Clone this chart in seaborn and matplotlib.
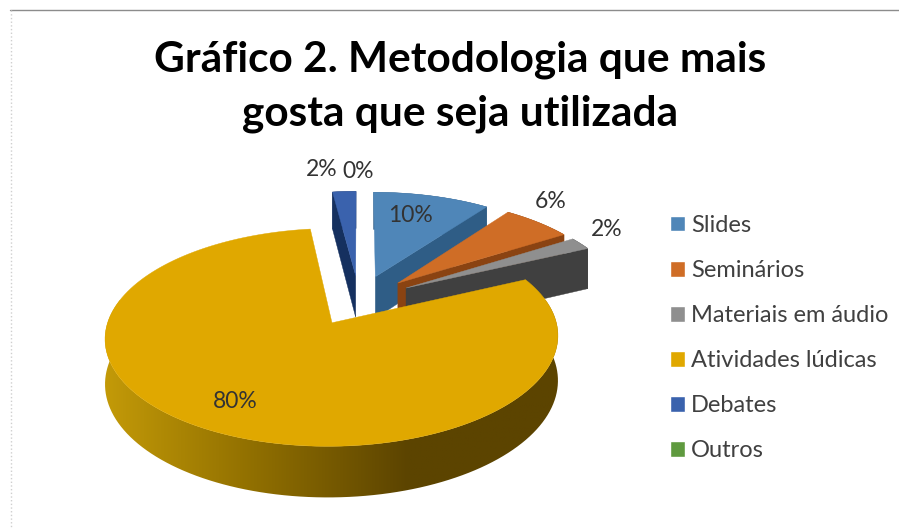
import numpy as np
import matplotlib
matplotlib.use("Agg")
import matplotlib.pyplot as plt
from matplotlib.colors import LinearSegmentedColormap
from matplotlib.patches import Polygon
import seaborn as sns

# chart values
categories = ["Slides", "Seminários", "Materiais em áudio", "Atividades lúdicas", "Debates", "Outros"]
values = [10, 6, 2, 80, 2, 0]
value_labels = ["10%", "6%", "2%", "80%", "2%", "0%"]
title_lines = ["Gráfico 2. Metodologia que mais", "gosta que seja utilizada"]

# styles
top_colors = ["#4f86b8", "#cf6d26", "#8f8f8f", "#e0a800", "#3a62ad", "#5f9a3f"]
wall_colors = ["#2f5d86", "#8a4312", "#404040", "#5c4400", "#15305f", "#3c6a28"]
label_pos = [(410, 216), (551, 202), (607, 229), (235, 401), (322, 170), (358, 172)]

# projection of the pie plane to pixels
CX, CY = 359, 300
RX, RY = 218, 101
PERSP = 0.13
DEPTH = 43
EXPLODE = 0.25


def project(x, y, z=0.0):
    w = 1 + PERSP * y
    return CX + RX * x / w, CY - RY * y / w + z * DEPTH / w


def arc_points(wedge, n=160):
    t = np.radians(np.linspace(wedge.theta1, wedge.theta2, n))
    return wedge.center[0] + np.cos(t), wedge.center[1] + np.sin(t)


def draw_wall(ax, xs, ys, color):
    xt, yt = project(xs, ys)
    xb, yb = project(xs, ys, 1.0)
    ax.fill(np.r_[xt, xb[::-1]], np.r_[yt, yb[::-1]], color=color, lw=0.3)


def draw_gradient_wall(ax, xs, ys):
    # the big slice gets lighter towards the left, like the office shading
    xt, yt = project(xs, ys)
    xb, yb = project(xs, ys, 1.0)
    cmap = LinearSegmentedColormap.from_list("wall", ["#c39a08", "#8f6e00", "#5c4400", "#5c4400"],
                                             N=256)
    img = ax.imshow(np.linspace(0, 1, 256)[None, :], cmap=cmap, aspect="auto", zorder=1,
                    extent=(105, 560, 510, 300))
    clip = Polygon(np.c_[np.r_[xt, xb[::-1]], np.r_[yt, yb[::-1]]], transform=ax.transData)
    img.set_clip_path(clip)


sns.set_theme(style="white")
plt.rcParams["font.family"] = ["Lato", "DejaVu Sans"]

fig, ax = plt.subplots(figsize=(8.99, 5.29), dpi=100)
ax.set_position([0, 0, 1, 1])

wedges, _ = ax.pie(values, explode=[EXPLODE] * len(values), colors=top_colors,
                   startangle=90, counterclock=False)

# back slices first, the big one last
for i in [4, 0, 1, 2, 3]:
    w = wedges[i]
    cx, cy = w.center
    arc_x, arc_y = arc_points(w)
    if i == 3:
        draw_gradient_wall(ax, arc_x, arc_y)
    else:
        # radial wall that faces the viewer
        k = -1 if i == 4 else 0
        draw_wall(ax, np.array([cx, arc_x[k]]), np.array([cy, arc_y[k]]), wall_colors[i])
        draw_wall(ax, arc_x, arc_y, wall_colors[i])
    px, py = project(np.r_[cx, arc_x], np.r_[cy, arc_y])
    ax.fill(px, py, color=top_colors[i], lw=0.3)

ax.set_aspect("auto")
ax.set_xlim(0, 899)
ax.set_ylim(529, 0)

handles = list(wedges)
for w in wedges:
    w.remove()

for txt, (x, y) in zip(value_labels, label_pos):
    ax.text(x, y, txt, fontsize=16.5, color="#333333", ha="center", va="center")

ax.text(460, 60, title_lines[0], fontsize=30.5, fontweight="bold", color="black", ha="center", va="center")
ax.text(460, 114, title_lines[1], fontsize=30.5, fontweight="bold", color="black", ha="center", va="center")

ax.legend(handles, categories, loc="upper left", bbox_to_anchor=(670 / 899, 1 - 215 / 529), frameon=False,
          fontsize=17, labelcolor="#404040", handlelength=0.63, handleheight=0.63, handletextpad=0.27,
          labelspacing=1.02, borderpad=0, borderaxespad=0)

# chart frame, only top and left survive in the screenshot
ax.plot([10, 899], [9.5, 9.5], color="#8c8c8c", lw=1)
ax.plot([10.5, 10.5], [10, 529], color="#cfcfcf", lw=1, ls=":")

fig.savefig("out.png", dpi=100)
